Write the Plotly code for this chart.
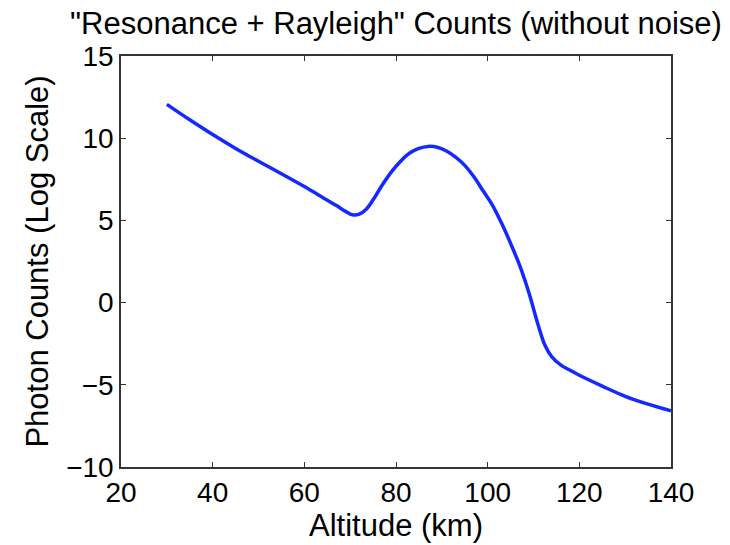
import plotly.graph_objects as go

altitude_km = [30, 35, 40, 45, 50, 55, 60, 64, 67, 69, 70.5, 72, 73.5, 75, 77, 79, 81, 83, 85,
               87, 89, 91, 93, 95, 97, 99, 101, 103, 105, 107, 109, 111, 112.5, 114, 116, 118,
               120, 125, 130, 135, 140]
log_counts = [12.06, 11.12, 10.22, 9.38, 8.6, 7.84, 7.06, 6.4, 5.9, 5.55, 5.34, 5.38, 5.68,
              6.25, 7.15, 7.95, 8.6, 9.1, 9.38, 9.5, 9.45, 9.22, 8.85, 8.35, 7.65, 6.8, 5.95,
              4.85, 3.6, 2.25, 0.6, -1.35, -2.6, -3.3, -3.8, -4.12, -4.42, -5.08, -5.7,
              -6.18, -6.59]

x_ticks = [20, 40, 60, 80, 100, 120, 140]
y_ticks = [-10, -5, 0, 5, 10, 15]
y_tick_text = ["\u221210", "\u22125", "0", "5", "10", "15"]

title_text = '"Resonance + Rayleigh" Counts (without noise)'
x_title = "Altitude (km)"
y_title = "Photon Counts (Log Scale)"

font_family = "Liberation Sans, Arial, Helvetica, sans-serif"

fig = go.Figure()
fig.add_trace(go.Scatter(
    x=altitude_km, y=log_counts, mode="lines",
    line=dict(color="rgb(20,40,255)", width=3.5, shape="spline", smoothing=1.0),
    showlegend=False, hoverinfo="x+y",
))

axis_common = dict(
    showline=True, linecolor="#333333", linewidth=1.5, mirror="ticks",
    ticks="inside", ticklen=5, tickwidth=1, tickcolor="#333333",
    showgrid=False, zeroline=False,
    tickfont=dict(family=font_family, size=28, color="black"),
)

fig.update_layout(
    width=730, height=545,
    paper_bgcolor="white", plot_bgcolor="white",
    margin=dict(l=113, r=67, t=48, b=86),
    title=dict(text=title_text, x=0.5, xref="paper", xanchor="center",
               y=1 - 15 / 545, yanchor="middle",
               font=dict(family=font_family, size=31, color="black")),
    xaxis=dict(range=[20, 140], tickvals=x_ticks,
               title=dict(text=x_title, standoff=4,
                          font=dict(family=font_family, size=31, color="black")),
               **axis_common),
    yaxis=dict(range=[-10, 15], tickvals=y_ticks, ticktext=y_tick_text,
               title=dict(text=y_title, standoff=8,
                          font=dict(family=font_family, size=31, color="black")),
               **axis_common),
)

fig.write_html("out.html")
